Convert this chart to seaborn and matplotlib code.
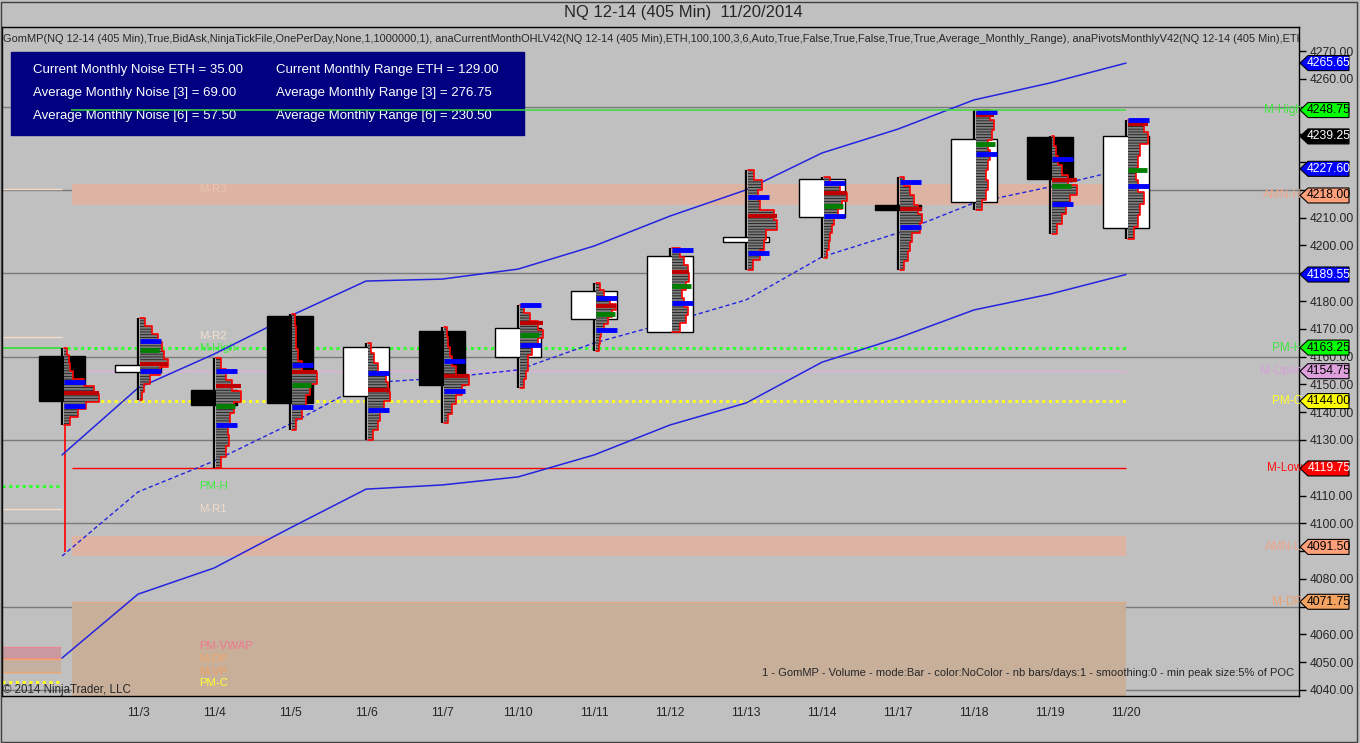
import numpy as np
import matplotlib
matplotlib.use("Agg")
import matplotlib.pyplot as plt
from matplotlib.patches import Polygon, Rectangle
import seaborn as sns

# ---- values ----
dates = ["10/31", "11/3", "11/4", "11/5", "11/6", "11/7", "11/10", "11/11",
         "11/12", "11/13", "11/14", "11/17", "11/18", "11/19", "11/20"]
opens = [4160.2, 4154.5, 4148.0, 4174.5, 4146.0, 4169.3, 4159.7, 4173.4,
         4169.0, 4201.1, 4210.1, 4214.6, 4215.5, 4239.2, 4206.2]
highs = [4163.25, 4174.0, 4159.5, 4175.3, 4164.8, 4170.5, 4178.6, 4186.4,
         4199.0, 4227.2, 4224.8, 4224.8, 4248.75, 4239.4, 4245.2]
lows = [4135.4, 4144.4, 4119.75, 4133.5, 4130.0, 4136.0, 4148.8, 4162.1,
        4169.0, 4191.2, 4195.6, 4191.2, 4212.8, 4204.1, 4202.2]
closes = [4144.0, 4157.0, 4142.5, 4143.3, 4163.3, 4149.8, 4170.2, 4183.6,
          4196.3, 4203.2, 4223.9, 4212.8, 4238.2, 4223.9, 4239.25]

# volume profile per day: widths (px) from high down to low
profiles = [
    [3, 5, 6, 9, 20, 30, 35, 22, 14, 6],
    [5, 12, 18, 22, 24, 28, 20, 10, 4, 2],
    [5, 10, 16, 25, 18, 14, 12, 13, 10, 5],
    [3, 4, 4, 6, 10, 25, 18, 14, 10, 4],
    [3, 6, 10, 18, 20, 22, 16, 12, 10, 5],
    [3, 4, 6, 8, 12, 25, 18, 12, 8, 4],
    [4, 10, 18, 23, 18, 12, 8, 8, 6, 4],
    [4, 8, 14, 20, 16, 12, 8, 5, 4, 3],
    [8, 12, 16, 17, 14, 10, 12, 16, 14, 8],
    [6, 14, 10, 12, 26, 29, 18, 16, 12, 5],
    [6, 16, 23, 18, 14, 10, 8, 6, 5, 3],
    [4, 10, 14, 18, 22, 20, 12, 10, 8, 4],
    [14, 18, 16, 12, 14, 12, 10, 12, 10, 6],
    [2, 4, 6, 10, 16, 25, 18, 14, 10, 5],
    [16, 20, 12, 10, 8, 10, 16, 12, 10, 6],
]
va_high = [4150.8, 4165.6, 4155.0, 4156.9, 4154.0, 4158.4, 4178.5, 4181.0,
           4198.4, 4217.3, 4222.4, 4222.7, 4247.9, 4231.0, 4245.0]
va_low = [4142.4, 4155.0, 4135.3, 4141.7, 4140.8, 4147.6, 4164.1, 4169.5,
          4179.2, 4197.2, 4210.7, 4206.5, 4232.9, 4214.8, 4221.3]
poc = [4146.9, 4157.3, 4149.4, 4154.4, 4148.0, 4153.1, 4172.0, 4178.3,
       4190.3, 4210.7, 4218.8, 4213.0, 4247.0, 4223.6, 4243.7]
vwap_mark = [np.nan, 4162.4, 4142.4, 4149.7, np.nan, np.nan, 4167.7, 4175.3,
             4185.3, np.nan, 4214.1, np.nan, 4236.5, 4221.3, 4227.1]

upper_band = [4124.6, 4148.7, 4160.9, 4174.6, 4187.2, 4187.9, 4191.5, 4199.8,
              4210.6, 4220.0, 4233.3, 4241.9, 4252.4, 4258.5, 4265.65]
mid_line = [4088.2, 4111.3, 4122.4, 4135.7, 4150.5, 4152.3, 4155.2, 4164.9,
            4172.4, 4180.4, 4195.9, 4204.5, 4215.3, 4221.1, 4227.6]
lower_band = [4051.5, 4074.5, 4083.9, 4098.3, 4112.3, 4113.8, 4116.7, 4124.6,
              4135.4, 4143.3, 4158.0, 4166.7, 4176.8, 4182.5, 4189.55]

# current month levels (right side)
level_names = ["M-High", "AMN-H", "PM-H", "M-Open", "PM-C", "M-Low", "AMN-L", "M-DP"]
level_values = [4248.75, 4218.00, 4163.25, 4154.75, 4144.00, 4119.75, 4091.50, 4071.75]
level_colors = ["#3ce63c", "#f0a488", "#3ce63c", "#d8a0d8", "#ffff30", "#ff1010",
                "#f0a488", "#f0a070"]
amn_h_band = (4214.6, 4222.1)
amn_l_band = (4088.2, 4095.4)
m_dp_band = (4030.0, 4071.75)

# prior month levels (short stubs on the left)
prior_names = ["M-R3", "M-R2", "M-High", "PM-H", "M-R1", "PM-VWAP", "M-DP", "M-VP", "PM-C"]
prior_values = [4220.3, 4167.0, 4163.25, 4113.4, 4105.1, 4054.5, 4051.4, 4046.6, 4042.7]
prior_label_y = [4220.3, 4167.5, 4163.0, 4113.4, 4105.1, 4056.0, 4051.2, 4046.6, 4042.4]
prior_colors = ["#ebc4ae", "#f2e2d2", "#40e840", "#40e840", "#f2dccc", "#f07890",
                "#f0a868", "#f0a060", "#ffff30"]

# price tags on the axis
tag_values = [4265.65, 4248.75, 4239.25, 4227.60, 4218.00, 4189.55, 4163.25,
              4154.75, 4144.00, 4119.75, 4091.50, 4071.75]
tag_colors = ["#0000ff", "#00ff00", "#000000", "#0000ff", "#ffa07a", "#0000ff",
              "#00ff00", "#dda0dd", "#ffff00", "#ff0000", "#ffa07a", "#f4a460"]
tag_text = ["white", "black", "white", "white", "black", "white",
            "black", "black", "black", "white", "black", "black"]

info_left = ["Current Monthly Noise ETH = 35.00", "Average Monthly Noise [3] = 69.00",
             "Average Monthly Noise [6] = 57.50"]
info_right = ["Current Monthly Range ETH = 129.00", "Average Monthly Range [3] = 276.75",
              "Average Monthly Range [6] = 230.50"]

BG = "#c0c0c0"
sns.set_style("white", {"axes.facecolor": BG, "figure.facecolor": BG,
                        "axes.edgecolor": "black"})
plt.rcParams["font.family"] = ["Liberation Sans", "DejaVu Sans"]
plt.rcParams["hatch.linewidth"] = 0.6

fig = plt.figure(figsize=(13.6, 7.43), dpi=100)
fig.patch.set_facecolor(BG)
ax = fig.add_axes([2 / 1360, 47 / 743, 1297 / 1360, 669 / 743])
ax.set_facecolor(BG)
x = np.arange(len(dates))
PX = 1 / 76.0  # one screen pixel in bar units
YPX = 669 / (4278.64 - 4037.84)

def ax_x(px):
    return (px - 2) / 1297.0

def ax_y(py):
    return (696 - py) / 669.0

# grid lines every 30 points
for g in range(4040, 4271, 30):
    ax.axhline(g, color="#7a7a7a", lw=1, zorder=0.5)

# bands
for lo, hi, col in [(amn_h_band[0], amn_h_band[1], "#ddb4a4"),
                    (amn_l_band[0], amn_l_band[1], "#ddb4a4"),
                    (m_dp_band[0], m_dp_band[1], "#c7af9a")]:
    ax.fill_between([0.13, 14], lo, hi, color=col, lw=0, zorder=1)
ax.hlines(m_dp_band[1], 0.13, 14, color="#e8a878", lw=0.8, zorder=1.1)

# current month lines
ax.hlines(level_values[2], 0.07, 14, color="#30ff30", lw=2.2, ls=(0, (1, 1.2)), zorder=2)
ax.hlines(level_values[3], 0.13, 14, color="#e0b0e0", lw=0.9, zorder=2)
ax.hlines(level_values[4], 0.07, 14, color="#ffff20", lw=2.2, ls=(0, (1, 1.2)), zorder=2)
ax.hlines(level_values[5], 0.13, 14, color="#ff0000", lw=1, zorder=2)
ax.vlines(0.04, 4089.5, 4144.0, color="#ff0000", lw=1.2, zorder=2)

# prior month stubs
L = -0.79
for i in [0, 1, 4]:
    ax.hlines(prior_values[i], L, 0, color="#f5dcc8", lw=1, zorder=2)
ax.hlines(prior_values[2], L, 0, color="#30e030", lw=1.2, zorder=2)
ax.hlines(prior_values[3], L, 0, color="#30ff30", lw=2.2, ls=(0, (1, 1.2)), zorder=2)
ax.fill_between([L, -0.01], prior_values[6], 4055.6, color="#c89aa0", lw=0, zorder=1)
ax.hlines([4055.6, prior_values[6]], L, -0.01, color="#e88898", lw=1, zorder=1.5)
ax.fill_between([L, -0.01], prior_values[7], prior_values[6], color="#c4b0a0", lw=0, zorder=1)
ax.hlines([prior_values[6] - 0.3, prior_values[7]], L, -0.01, color="#f0a468", lw=1, zorder=1.5)
ax.hlines(prior_values[8], L, 0, color="#ffff20", lw=2.2, ls=(0, (1, 1.2)), zorder=2)
for nm, v, c in zip(prior_names, prior_label_y, prior_colors):
    ax.text(1.81, v, nm, color=c, fontsize=8.2, va="center", ha="left", zorder=2.5)

# moving bands
sns.lineplot(x=x, y=upper_band, ax=ax, color="#2424e0", lw=1.1, zorder=3)
sns.lineplot(x=x, y=lower_band, ax=ax, color="#2424e0", lw=1.1, zorder=3)
sns.lineplot(x=x, y=mid_line, ax=ax, color="#2424e0", lw=1.0, ls=(0, (3, 2)), zorder=3)

# candles
body_col = ["white" if c >= o else "black" for o, c in zip(opens, closes)]
ax.vlines(x, lows, highs, color="black", lw=1.6, zorder=4)
ax.bar(x, np.array(closes) - np.array(opens), bottom=opens, width=0.6,
       color=body_col, edgecolor="black", lw=1, zorder=4)

# volume profiles
for i in range(len(dates)):
    w = np.array(profiles[i]) * PX
    n = len(w)
    h = (highs[i] - lows[i]) / n
    tops = highs[i] - np.arange(n) * h
    ax.barh(tops - h / 2, w, height=h, left=x[i] + 0.02, color="#7c7c7c",
            edgecolor="#1c1c1c", lw=0, hatch="------", zorder=5)
    ox, oy = [x[i] + 0.02], [highs[i]]
    for k in range(n):
        ox += [x[i] + 0.02 + w[k], x[i] + 0.02 + w[k]]
        oy += [tops[k], tops[k] - h]
    ox.append(x[i] + 0.02)
    oy.append(lows[i])
    ax.plot(ox, oy, color="#ff0000", lw=1.2, zorder=5.5)
    ax.hlines(poc[i], x[i] + 0.02, x[i] + 0.02 + w.max(), color="#c00000", lw=3, zorder=5.6)

ax.hlines(va_high, x + 0.02, x + 0.3, color="#0000ff", lw=3.5, zorder=6)
ax.hlines(va_low, x + 0.02, x + 0.3, color="#0000ff", lw=3.5, zorder=6)
vm = np.array(vwap_mark)
ok = ~np.isnan(vm)
ax.hlines(vm[ok], x[ok] + 0.02, x[ok] + 0.28, color="#008000", lw=3.5, zorder=6)

# info box
ax.add_patch(Rectangle((ax_x(11), ax_y(135)), 513 / 1297, 83 / 669,
                       transform=ax.transAxes, color="#000080", zorder=7))
for r, (a, b) in enumerate(zip(info_left, info_right)):
    yy = ax_y(69.5 + r * 23.5)
    ax.text(ax_x(33), yy, a, color="white", fontsize=9.5, va="center",
            transform=ax.transAxes, zorder=7.5)
    ax.text(ax_x(276), yy, b, color="white", fontsize=9.5, va="center",
            transform=ax.transAxes, zorder=7.5)

# M-High line sits over the box
ax.hlines(level_values[0], 0.12, 14, color="#3cdc3c", lw=1.1, zorder=8)

# right-hand level labels
for nm, v, c in zip(level_names, level_values, level_colors):
    ax.text(ax_x(1302), v, nm, color=c, fontsize=8.5, ha="right", va="center",
            transform=ax.get_yaxis_transform(), clip_on=False, zorder=9)

# axes
yt = np.arange(4040, 4271, 10)
ax.set_xlim(-0.79, 16.276)
ax.set_ylim(4037.84, 4278.64)
ax.yaxis.tick_right()
ax.set_yticks(yt)
# labels hidden behind a price tag are left blank
ax.set_yticklabels([f"{v:.2f}" if min(abs(v - t) for t in tag_values) > 2.5 else ""
                    for v in yt])
ax.set_xticks(x[1:])
ax.set_xticklabels(dates[1:])
ax.tick_params(axis="both", direction="out", length=5, width=1, color="black",
               labelsize=8.7, pad=3)
for s in ax.spines.values():
    s.set_color("black")
    s.set_linewidth(1)
ax.set_xlabel("")
ax.set_ylabel("")

# price tags
ht = 7.5 / YPX
for v, c, tc in zip(tag_values, tag_colors, tag_text):
    pts = [(ax_x(1300), v), (ax_x(1308), v + ht), (ax_x(1349), v + ht),
           (ax_x(1349), v - ht), (ax_x(1308), v - ht)]
    ax.add_patch(Polygon(pts, closed=True, facecolor=c, edgecolor="black", lw=0.8,
                         transform=ax.get_yaxis_transform(), clip_on=False, zorder=10))
    ax.text(ax_x(1329), v, f"{v:.2f}", color=tc, fontsize=8.7, ha="center", va="center",
            transform=ax.get_yaxis_transform(), clip_on=False, zorder=11)

# texts
ind = ("GomMP(NQ 12-14 (405 Min),True,BidAsk,NinjaTickFile,OnePerDay,None,1,1000000,1), "
       "anaCurrentMonthOHLV42(NQ 12-14 (405 Min),ETH,100,100,3,6,Auto,True,False,True,False,"
       "True,True,Average_Monthly_Range), anaPivotsMonthlyV42(NQ 12-14 (405 Min),ETH,Auto)")
ax.text(ax_x(3), ax_y(39), ind, fontsize=7.95, va="center", ha="left",
        transform=ax.transAxes, clip_on=True, zorder=9)
ax.text(ax_x(762), ax_y(673),
        "1 - GomMP - Volume - mode:Bar - color:NoColor - nb bars/days:1 - smoothing:0 - "
        "min peak size:5% of POC", fontsize=8.05, va="center", ha="left",
        transform=ax.transAxes, zorder=9)
ax.text(ax_x(3), ax_y(690.5), "\u00a9 2014 NinjaTrader, LLC", fontsize=8.3, va="center",
        ha="left", transform=ax.transAxes, zorder=9)
fig.text(683 / 1360, 1 - 13 / 743, "NQ 12-14 (405 Min)  11/20/2014", fontsize=12,
         ha="center", va="center")

# outer frame
fig.add_artist(Rectangle((0.5 / 1360, 1.5 / 743), 1356.5 / 1360, 740 / 743, fill=False,
                         edgecolor="#404040", lw=1, transform=fig.transFigure))

fig.savefig("out.png", dpi=100, facecolor=BG)
